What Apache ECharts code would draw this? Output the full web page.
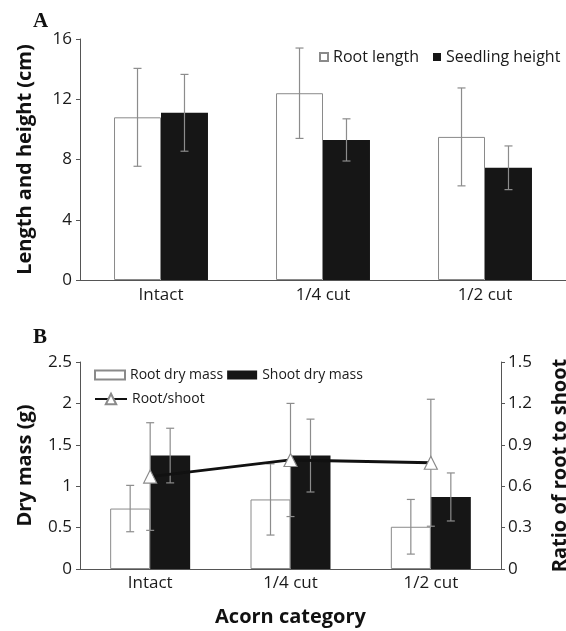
<!DOCTYPE html>
<html>
<head>
<meta charset="utf-8">
<script src="https://cdn.jsdelivr.net/npm/echarts@6/dist/echarts.min.js"></script>
<style>
html,body{margin:0;padding:0;background:#fff;}
#chart{width:566px;height:631px;}
</style>
</head>
<body>
<div id="chart"></div>
<script>
// ---- data ----
const categories = ['Intact', '1/4 cut', '1/2 cut'];
const rootLength = [10.8, 12.4, 9.5];
const rootLengthErr = [3.25, 3.0, 3.25];
const seedlingHeight = [11.1, 9.3, 7.45];
const seedlingHeightErr = [2.55, 1.4, 1.45];
const rootDryMass = [0.73, 0.84, 0.51];
const rootDryMassErr = [0.28, 0.43, 0.33];
const shootDryMass = [1.37, 1.37, 0.87];
const shootDryMassErr = [0.33, 0.44, 0.29];
const rootShoot = [0.67, 0.79, 0.77];
const rootShootErr = [0.39, 0.41, 0.46];
const lengthTicks = {min: 0, max: 16, interval: 4};
const massTicks = {min: 0, max: 2.5, interval: 0.5};
const ratioTicks = {min: 0, max: 1.5, interval: 0.3};

const FONT = 'Open Sans';
const TXT = '#1a1a1a';
const AX = '#555';
const ERR = '#8c8c8c';

function errData(vals, errs) {
  return vals.map((v, i) => [i, v, errs[i]]);
}
function errRender(offsetFrac) {
  return function (params, api) {
    const i = api.value(0), v = api.value(1), e = api.value(2);
    const band = api.size([1, 0])[0];
    const x = api.coord([i, v])[0] + offsetFrac * band;
    const yt = api.coord([i, v + e])[1];
    const yb = api.coord([i, Math.max(v - e, 0)])[1];
    const cap = 4;
    const st = {stroke: ERR, lineWidth: 1.2};
    return {
      type: 'group',
      children: [
        {type: 'line', shape: {x1: x, y1: yt, x2: x, y2: yb}, style: st},
        {type: 'line', shape: {x1: x - cap, y1: yt, x2: x + cap, y2: yt}, style: st},
        {type: 'line', shape: {x1: x - cap, y1: yb, x2: x + cap, y2: yb}, style: st}
      ]
    };
  };
}

const bwA = 0.29, bwB = 0.285;
const axisLabel = {fontFamily: FONT, fontSize: 17, color: TXT};
const nameStyle = {fontFamily: FONT, fontSize: 20, fontWeight: 'bold', color: '#111'};

const chart = echarts.init(document.getElementById('chart'), null, {renderer: 'canvas'});
chart.setOption({
  animation: false,
  backgroundColor: '#fff',
  textStyle: {fontFamily: FONT},
  graphic: [
    {type: 'text', left: 33, top: 11, style: {text: 'A', font: 'bold 21px "Liberation Serif"', fill: '#111'}},
    {type: 'text', left: 33, top: 327, style: {text: 'B', font: 'bold 21px "Liberation Serif"', fill: '#111'}}
  ],
  grid: [
    {left: 80, top: 39, width: 486, height: 241, outerBoundsMode: 'none'},
    {left: 80, top: 362, width: 421, height: 207, outerBoundsMode: 'none'}
  ],
  legend: [
    {data: ['Root length', 'Seedling height'], left: 314, top: 44, icon: 'rect', itemWidth: 8, itemHeight: 8,
     itemGap: 14, itemTextGap: 3, textStyle: {fontFamily: FONT, fontSize: 16, color: TXT}, selectedMode: false},
    {data: ['Root dry mass', 'Shoot dry mass'], left: 89, top: 363, icon: 'rect', itemWidth: 30, itemHeight: 9,
     itemGap: 4, itemTextGap: 3, textStyle: {fontFamily: FONT, fontSize: 14, color: TXT}, selectedMode: false},
    {data: ['Root/shoot'], left: 89, top: 387, itemWidth: 32, itemHeight: 13, itemTextGap: 2,
     textStyle: {fontFamily: FONT, fontSize: 14, color: TXT}, selectedMode: false}
  ],
  xAxis: [
    {type: 'category', gridIndex: 0, data: categories, axisTick: {show: false},
     axisLine: {lineStyle: {color: AX, width: 1}}, axisLabel: Object.assign({margin: 7}, axisLabel)},
    {type: 'category', gridIndex: 1, data: categories, axisTick: {show: false},
     axisLine: {lineStyle: {color: AX, width: 1}}, axisLabel: Object.assign({margin: 6}, axisLabel),
     name: 'Acorn category', nameLocation: 'middle', nameGap: 38, nameTextStyle: nameStyle}
  ],
  yAxis: [
    {type: 'value', gridIndex: 0, min: lengthTicks.min, max: lengthTicks.max, interval: lengthTicks.interval,
     splitLine: {show: false}, axisLine: {show: true, lineStyle: {color: AX}},
     axisTick: {show: true, length: 4, lineStyle: {color: AX}}, axisLabel: Object.assign({margin: 8}, axisLabel),
     name: 'Length and height (cm)', nameLocation: 'middle', nameRotate: 90, nameGap: 45, nameTextStyle: nameStyle},
    {type: 'value', gridIndex: 1, min: massTicks.min, max: massTicks.max, interval: massTicks.interval,
     splitLine: {show: false}, axisLine: {show: true, lineStyle: {color: AX}},
     axisTick: {show: true, length: 4, lineStyle: {color: AX}}, axisLabel: Object.assign({margin: 8}, axisLabel),
     name: 'Dry mass (g)', nameLocation: 'middle', nameRotate: 90, nameGap: 45, nameTextStyle: nameStyle},
    {type: 'value', gridIndex: 1, position: 'right', min: ratioTicks.min, max: ratioTicks.max, interval: ratioTicks.interval,
     splitLine: {show: false}, axisLine: {show: true, lineStyle: {color: AX}},
     axisTick: {show: true, length: 4, lineStyle: {color: AX}},
     axisLabel: Object.assign({margin: 7, formatter: v => String(+v.toFixed(1))}, axisLabel),
     name: 'Ratio of root to shoot', nameLocation: 'middle', nameRotate: 90, nameGap: 49, nameTextStyle: nameStyle}
  ],
  series: [
    {name: 'Root length', type: 'bar', xAxisIndex: 0, yAxisIndex: 0, data: rootLength, barWidth: (bwA * 100) + '%', barGap: '0%',
     itemStyle: {color: '#fff', borderColor: '#8a8a8a', borderWidth: 1}},
    {name: 'Seedling height', type: 'bar', xAxisIndex: 0, yAxisIndex: 0, data: seedlingHeight, barWidth: (bwA * 100) + '%', barGap: '0%',
     itemStyle: {color: '#161616'}},
    {type: 'custom', xAxisIndex: 0, yAxisIndex: 0, data: errData(rootLength, rootLengthErr), renderItem: errRender(-bwA / 2), encode: {x: 0, y: 1}, z: 5},
    {type: 'custom', xAxisIndex: 0, yAxisIndex: 0, data: errData(seedlingHeight, seedlingHeightErr), renderItem: errRender(bwA / 2), encode: {x: 0, y: 1}, z: 5},

    {name: 'Root dry mass', type: 'bar', xAxisIndex: 1, yAxisIndex: 1, data: rootDryMass, barWidth: (bwB * 100) + '%', barGap: '0%',
     itemStyle: {color: '#fff', borderColor: '#8a8a8a', borderWidth: 1}},
    {name: 'Shoot dry mass', type: 'bar', xAxisIndex: 1, yAxisIndex: 1, data: shootDryMass, barWidth: (bwB * 100) + '%', barGap: '0%',
     itemStyle: {color: '#161616'}},
    {type: 'custom', xAxisIndex: 1, yAxisIndex: 1, data: errData(rootDryMass, rootDryMassErr), renderItem: errRender(-bwB / 2), encode: {x: 0, y: 1}, z: 5},
    {type: 'custom', xAxisIndex: 1, yAxisIndex: 1, data: errData(shootDryMass, shootDryMassErr), renderItem: errRender(bwB / 2), encode: {x: 0, y: 1}, z: 5},
    {type: 'custom', xAxisIndex: 1, yAxisIndex: 2, data: errData(rootShoot, rootShootErr), renderItem: errRender(0), encode: {x: 0, y: 1}, z: 6},
    {name: 'Root/shoot', type: 'line', xAxisIndex: 1, yAxisIndex: 2, data: rootShoot, symbol: 'triangle', symbolSize: 13,
     lineStyle: {color: '#111', width: 2.8}, itemStyle: {color: '#fff', borderColor: '#8a8a8a', borderWidth: 1.2}, z: 10}
  ]
});
</script>
</body>
</html>
